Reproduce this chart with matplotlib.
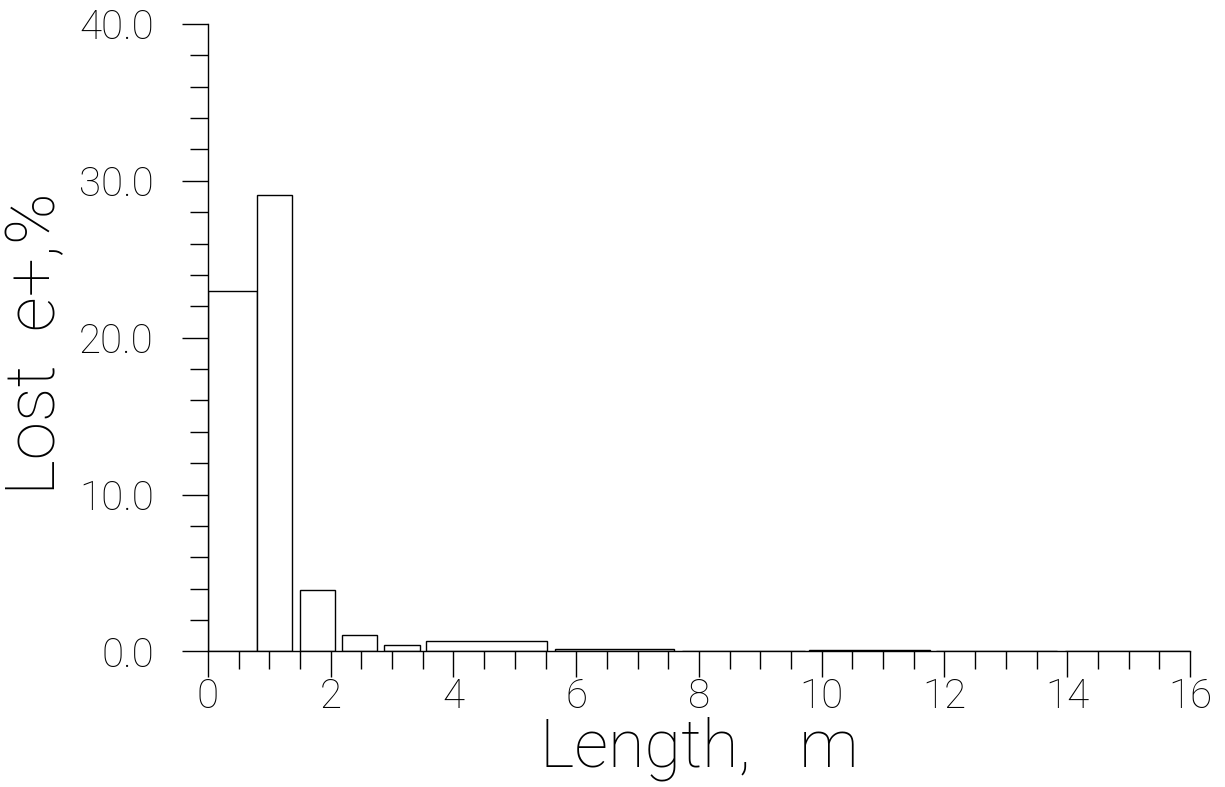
import numpy as np
import matplotlib
matplotlib.use("Agg")
import matplotlib.pyplot as plt
from matplotlib.ticker import MultipleLocator, FormatStrFormatter

# bins (m), losses in %
left_edges = [0.00, 0.80, 1.50, 2.18, 2.87, 3.56, 5.65, 7.72, 9.80, 11.87, 13.97]
right_edges = [0.80, 1.37, 2.07, 2.76, 3.45, 5.53, 7.60, 9.73, 11.76, 13.84, 16.00]
lost = [23.0, 29.1, 3.95, 1.05, 0.42, 0.65, 0.18, 0.05, 0.08, 0.04, 0.02]

plt.rcParams['font.family'] = ['Roboto', 'DejaVu Sans']
plt.rcParams['font.weight'] = 'light'
plt.rcParams['axes.labelweight'] = 'light'

fig = plt.figure(figsize=(12.25, 7.87), dpi=100)
ax = fig.add_axes([0.1698, 0.1722, 0.8016, 0.7973])

widths = np.array(right_edges) - np.array(left_edges)
ax.bar(left_edges, lost, width=widths, align='edge',
       facecolor='white', edgecolor='black', linewidth=1.0)

ax.set_xlim(0, 16)
ax.set_ylim(0, 40)
ax.spines['top'].set_visible(False)
ax.spines['right'].set_visible(False)
for s in ('left', 'bottom'):
    ax.spines[s].set_linewidth(1.0)

ax.xaxis.set_major_locator(MultipleLocator(2))
ax.xaxis.set_minor_locator(MultipleLocator(0.5))
ax.yaxis.set_major_locator(MultipleLocator(10))
ax.yaxis.set_minor_locator(MultipleLocator(2))
ax.yaxis.set_major_formatter(FormatStrFormatter('%.1f'))

ax.tick_params(axis='both', which='major', direction='out', length=19, width=1.0, labelsize=29)
ax.tick_params(axis='both', which='minor', direction='out', length=13, width=1.0)
ax.tick_params(axis='x', which='major', pad=0)
ax.tick_params(axis='y', which='major', pad=20)

ax.set_xlabel("Length,   m", fontsize=48, fontweight='light', labelpad=0)
ax.set_ylabel("Lost  e+,%", fontsize=50, fontweight='light')
ax.yaxis.set_label_coords(-0.141, 0.49)

fig.savefig("out.png", dpi=100)
